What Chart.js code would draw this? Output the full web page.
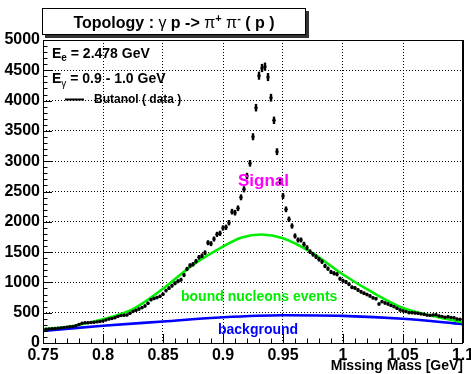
<!DOCTYPE html>
<html>
<head>
<meta charset="utf-8">
<script src="https://cdn.jsdelivr.net/npm/chart.js@4.4.0/dist/chart.umd.min.js"></script>
<style>
html, body { margin: 0; padding: 0; background: #fff; }
#wrap { width: 471px; height: 374px; }
</style>
</head>
<body>
<div id="wrap"><canvas id="chart" width="471" height="374"></canvas></div>
<script>
// histogram bins (bin width 0.0025 GeV)
const binStart = 0.7525;
const binWidth = 0.0025;
const counts = [
  228, 232, 236, 240, 244, 250, 255, 262, 268, 272,
  285, 305, 325, 335, 335, 338, 342, 348, 355, 363,
  380, 395, 405, 417, 440, 452, 458, 462, 490, 520,
  540, 560, 583, 611, 655, 715, 735, 750, 770, 804,
  865, 905, 945, 985, 1018, 1045, 1122, 1221, 1280, 1299,
  1350, 1414, 1440, 1490, 1655, 1639, 1716, 1793, 1810, 1898,
  1909, 1985, 2167, 2150, 2223, 2404, 2536, 2756, 2965, 3404,
  3883, 4411, 4538, 4560, 4389, 4048, 3675, 3157, 2662, 2426,
  2206, 2041, 1931, 1766, 1700, 1700, 1630, 1573, 1507, 1463,
  1424, 1381, 1342, 1271, 1226, 1172, 1150, 1134, 1061, 1028,
  1007, 970, 919, 908, 875, 845, 820, 800, 776, 745,
  731, 644, 682, 660, 644, 620, 600, 573, 545, 530,
  517, 500, 500, 495, 490, 480, 474, 460, 457, 462,
  467, 446, 440, 424, 434, 420, 417, 396, 391
];

// fitted curves
const boundMass = [0.75, 0.775, 0.80, 0.825, 0.85, 0.875, 0.90, 0.915, 0.932, 0.95, 0.975, 1.00, 1.025, 1.05, 1.075, 1.10];
const boundVals = [226, 282, 392, 560, 895, 1290, 1590, 1735, 1790, 1730, 1480, 1130, 830, 578, 445, 340];
const bgMass = [0.75, 0.80, 0.85, 0.90, 0.95, 1.00, 1.05, 1.10];
const bgVals = [200, 285, 355, 425, 458, 448, 400, 310];

const xTicks = [0.75, 0.8, 0.85, 0.9, 0.95, 1, 1.05, 1.1];
const yTicks = [0, 500, 1000, 1500, 2000, 2500, 3000, 3500, 4000, 4500, 5000];

const FONT = "'Liberation Sans', Arial, sans-serif";

const dataPts = counts.map((c, i) => ({ x: binStart + i * binWidth, y: c }));
const boundPts = boundMass.map((m, i) => ({ x: m, y: boundVals[i] }));
const bgPts = bgMass.map((m, i) => ({ x: m, y: bgVals[i] }));

// draw a row of text pieces: [text, font, dy]
function runs(ctx, parts, x, y, align) {
  let total = 0;
  parts.forEach(p => { ctx.font = p[1]; total += ctx.measureText(p[0]).width; });
  let cx = align === 'center' ? x - total / 2 : x;
  parts.forEach(p => {
    ctx.font = p[1];
    ctx.fillText(p[0], cx, y + (p[2] || 0));
    cx += ctx.measureText(p[0]).width;
  });
}

const rootLook = {
  id: 'rootLook',
  beforeDraw(chart) {
    const ctx = chart.ctx;
    ctx.save();
    ctx.fillStyle = '#fff';
    ctx.fillRect(0, 0, chart.width, chart.height);
    ctx.restore();
  },
  afterDatasetDraw(chart, args) {
    if (args.index !== 0) return;
    // statistical error bars on the data points
    const ctx = chart.ctx, ys = chart.scales.y, xs = chart.scales.x;
    ctx.save();
    ctx.strokeStyle = '#000';
    ctx.lineWidth = 2.4;
    dataPts.forEach(p => {
      const e = Math.sqrt(p.y);
      const px = xs.getPixelForValue(p.x);
      ctx.beginPath();
      ctx.moveTo(px, ys.getPixelForValue(p.y + e));
      ctx.lineTo(px, ys.getPixelForValue(p.y - e));
      ctx.stroke();
    });
    ctx.restore();
  },
  afterDraw(chart) {
    const ctx = chart.ctx, a = chart.chartArea;
    const xs = chart.scales.x, ys = chart.scales.y;
    ctx.save();
    // frame
    ctx.strokeStyle = '#000';
    ctx.lineWidth = 1;
    ctx.strokeRect(a.left + 0.5, a.top + 0.5, a.right - a.left - 1, a.bottom - a.top);
    ctx.fillRect(a.right - 1, a.top, 2, a.bottom - a.top);
    // inner tick marks
    ctx.beginPath();
    for (let v = 0; v <= 5000; v += 100) {
      const py = Math.round(ys.getPixelForValue(v)) + 0.5;
      const len = v % 500 === 0 ? 9 : 4.5;
      ctx.moveTo(a.left, py);
      ctx.lineTo(a.left + len, py);
    }
    for (let i = 0; i <= 35; i++) {
      const px = Math.round(xs.getPixelForValue(0.75 + i * 0.01)) + 0.5;
      const len = i % 5 === 0 ? 9 : 4.5;
      ctx.moveTo(px, a.bottom);
      ctx.lineTo(px, a.bottom - len);
    }
    ctx.stroke();

    // title box with shadow
    ctx.fillStyle = '#333';
    ctx.fillRect(45, 11, 264, 27);
    ctx.fillStyle = '#fff';
    ctx.fillRect(42, 8, 264, 27);
    ctx.strokeStyle = '#000';
    ctx.strokeRect(42.5, 8.5, 263, 26);
    ctx.fillStyle = '#000';
    ctx.textBaseline = 'alphabetic';
    const b16 = 'bold 16px ' + FONT, n16 = '16px ' + FONT, b11 = 'bold 11px ' + FONT;
    runs(ctx, [
      ['Topology : ', b16], ['\u03b3', n16], [' p -> ', b16],
      ['\u03c0', n16], ['+', b11, -6], [' ', b16],
      ['\u03c0', n16], ['-', b11, -6], [' ( p )', b16]
    ], 174, 28, 'center');

    // beam / photon energy labels
    const b14 = 'bold 14px ' + FONT, b10 = 'bold 10px ' + FONT, n10 = '10px ' + FONT;
    runs(ctx, [['E', b14], ['e', b10, 3], [' = 2.478 GeV', b14]], 52, 58);
    runs(ctx, [['E', b14], ['\u03b3', n10, 4], [' = 0.9 - 1.0 GeV', b14]], 52, 83);

    // legend entry
    ctx.lineWidth = 2;
    ctx.beginPath();
    ctx.moveTo(65, 99.5);
    ctx.lineTo(84, 99.5);
    ctx.stroke();
    ctx.font = 'bold 12px ' + FONT;
    ctx.textBaseline = 'middle';
    ctx.fillText('Butanol ( data )', 94, 100);

    // curve labels
    ctx.textAlign = 'left';
    ctx.font = 'bold 17px ' + FONT;
    ctx.fillStyle = '#ff00ff';
    ctx.fillText('Signal', 238, 181);
    ctx.font = 'bold 14px ' + FONT;
    ctx.fillStyle = '#00ee00';
    ctx.fillText('bound nucleons events', 181, 297);
    ctx.fillStyle = '#0000ff';
    ctx.fillText('background', 218, 330);

    // x axis title
    ctx.fillStyle = '#000';
    ctx.textAlign = 'right';
    ctx.fillText('Missing Mass [GeV]', 463, 366);
    ctx.restore();
  }
};

const ctx = document.getElementById('chart').getContext('2d');
new Chart(ctx, {
  type: 'scatter',
  data: {
    datasets: [
      {
        label: 'Butanol ( data )',
        data: dataPts,
        pointRadius: 1.7,
        pointBackgroundColor: '#000',
        pointBorderWidth: 0,
        showLine: false
      },
      {
        label: 'bound nucleons events',
        data: boundPts,
        showLine: true,
        borderColor: '#00ee00',
        borderWidth: 2.6,
        pointRadius: 0,
        cubicInterpolationMode: 'monotone'
      },
      {
        label: 'background',
        data: bgPts,
        showLine: true,
        borderColor: '#0000ff',
        borderWidth: 2.6,
        pointRadius: 0,
        cubicInterpolationMode: 'monotone'
      }
    ]
  },
  options: {
    responsive: false,
    animation: false,
    layout: { padding: { top: 40, right: 8, left: 0, bottom: 0 } },
    plugins: {
      legend: { display: false },
      title: { display: false },
      tooltip: { enabled: false }
    },
    scales: {
      x: {
        type: 'linear',
        min: 0.75,
        max: 1.1,
        afterBuildTicks: s => { s.ticks = xTicks.map(v => ({ value: v })); },
        afterFit: s => { s.height = 31; s.paddingLeft = 0; s.paddingRight = 0; },
        ticks: {
          autoSkip: false,
          maxRotation: 0,
          padding: 3,
          color: '#000',
          font: { family: FONT, size: 16, weight: 'bold' },
          callback: v => String(Number(v.toFixed(2)))
        },
        grid: { color: '#000', lineWidth: 1, drawTicks: false },
        border: { display: false, dash: [1, 2] }
      },
      y: {
        min: 0,
        max: 5000,
        afterBuildTicks: s => { s.ticks = yTicks.map(v => ({ value: v })); },
        afterFit: s => { s.width = 43; },
        ticks: {
          autoSkip: false,
          padding: 3,
          color: '#000',
          font: { family: FONT, size: 16, weight: 'bold' },
          callback: v => String(v)
        },
        grid: { color: '#000', lineWidth: 1, drawTicks: false },
        border: { display: false, dash: [1, 2] }
      }
    }
  },
  plugins: [rootLook]
});
</script>
</body>
</html>
